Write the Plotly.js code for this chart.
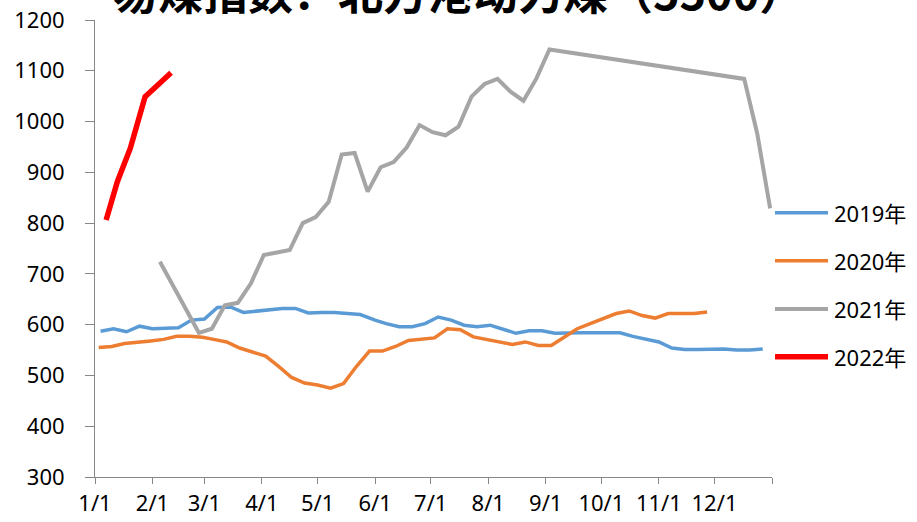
<!DOCTYPE html>
<html><head><meta charset="utf-8">
<script src="https://cdn.plot.ly/plotly-3.0.1.min.js"></script>
<style>html,body{margin:0;padding:0;background:#fff}#chart{width:917px;height:522px}</style>
</head><body><div id="chart"></div>
<script>
// ---- data (all series overlaid on one calendar year) ----
const baseYear = '2021';
const seriesNames = ['2019年', '2020年', '2021年', '2022年'];
const titleText = '易煤指数：北方港动力煤（5500）';

const dates2019 = ['01-04','01-11','01-18','01-25','02-01','02-08','02-15','02-22','03-01','03-08','03-15','03-22','03-29','04-05','04-12','04-19','04-26','05-03','05-10','05-17','05-24','06-01','06-07','06-14','06-21','06-28','07-05','07-12','07-19','07-26','08-02','08-09','08-16','08-23','08-30','09-06','09-13','09-20','09-27','10-11','10-18','10-25','11-01','11-08','11-15','11-22','11-29','12-06','12-13','12-20','12-27'];
const values2019 = [587,592,586,597,592,593,594,609,611,634,635,624,627,629,632,632,623,624,624,622,620,609,602,596,596,602,615,609,599,596,599,591,583,588,588,583,584,584,584,584,577,571,566,554,551,551,551,552,550,550,552];

const dates2020 = ['01-03','01-10','01-17','01-24','01-31','02-07','02-14','02-21','02-28','03-06','03-13','03-20','03-27','04-03','04-10','04-17','04-24','05-01','05-08','05-15','05-22','05-29','06-05','06-12','06-19','06-26','07-03','07-10','07-17','07-24','07-31','08-07','08-14','08-21','08-28','09-04','09-11','09-18','09-25','10-02','10-09','10-16','10-23','10-30','11-06','11-13','11-20','11-27'];
const values2020 = [555,557,563,565,568,571,577,577,575,571,566,554,546,538,518,496,485,481,475,484,518,548,548,557,569,571,574,592,590,576,571,566,561,566,559,559,576,592,602,612,622,627,618,613,622,622,622,625];

const dates2021 = ['02-05','02-26','03-05','03-12','03-19','03-26','04-02','04-09','04-16','04-23','04-30','05-07','05-14','05-21','05-28','06-04','06-11','06-18','06-25','07-02','07-09','07-16','07-23','07-30','08-06','08-13','08-20','08-27','09-03','12-17','12-24','12-31'];
const values2021 = [724,584,592,638,643,681,737,743,747,800,812,842,935,938,862,910,920,949,993,979,973,990,1049,1074,1084,1059,1041,1085,1142,1084,977,829];

const dates2022 = ['01-07','01-13','01-20','01-28','02-03','02-11'];
const values2022 = [806,881,947,1049,1069,1096];

const tickMonths = ['01','02','03','04','05','06','07','08','09','10','11','12'];
const tickLabels = ['1/1','2/1','3/1','4/1','5/1','6/1','7/1','8/1','9/1','10/1','11/1','12/1'];
const yTickStep = 100;
const yRange = [300, 1200];

// ---- styles ----
const colors = ['#5B9BD5', '#ED7D31', '#A5A5A5', '#FF0000'];
const widths = [3.5, 3.5, 4, 5.5];
const fontFamily = 'Noto Sans, Noto Sans CJK SC, sans-serif';
const axisColor = '#878787';

const W = 917, H = 522;
const M = {l: 95, r: 145, t: 20, b: 45};
const pw = W - M.l - M.r, ph = H - M.t - M.b;
const pX = px => (px - M.l) / pw;
const pY = py => (H - M.b - py) / ph;

const allDates = [dates2019, dates2020, dates2021, dates2022];
const allValues = [values2019, values2020, values2021, values2022];

const traces = allDates.map((d, i) => ({
  type: 'scatter', mode: 'lines',
  name: seriesNames[i],
  x: d.map(s => baseYear + '-' + s),
  y: allValues[i],
  line: {color: colors[i], width: widths[i], shape: 'linear'},
  hoverinfo: 'skip'
}));

const tickvals = tickMonths.map(m => baseYear + '-' + m + '-01').concat([(+baseYear + 1) + '-01-01']);
const ticktext = tickLabels.concat(['']);

const legendRows = [212.7, 260.7, 309, 356.7];
const shapes = legendRows.map((ry, i) => ({
  type: 'line', xref: 'paper', yref: 'paper',
  x0: pX(775), x1: pX(828), y0: pY(ry), y1: pY(ry),
  line: {color: colors[i], width: widths[i]}
}));
const annotations = legendRows.map((ry, i) => ({
  text: seriesNames[i], xref: 'paper', yref: 'paper',
  x: pX(832), y: pY(ry), xanchor: 'left', yanchor: 'middle',
  showarrow: false, font: {family: fontFamily, size: 22, color: '#000'}
}));
annotations.push({
  text: '<b>' + titleText + '</b>', xref: 'paper', yref: 'paper',
  x: pX(458), y: pY(-9.6), xanchor: 'center', yanchor: 'middle',
  showarrow: false, font: {family: 'Noto Sans CJK SC, sans-serif', size: 45, color: '#000'}
});

const layout = {
  width: W, height: H,
  margin: M,
  paper_bgcolor: '#fff', plot_bgcolor: '#fff',
  showlegend: false,
  xaxis: {
    type: 'date', range: [baseYear + '-01-01', (+baseYear + 1) + '-01-01'],
    tickmode: 'array', tickvals: tickvals, ticktext: ticktext,
    showline: true, linecolor: axisColor, linewidth: 1,
    ticks: 'outside', ticklen: 6, tickcolor: axisColor, tickwidth: 1,
    tickfont: {family: fontFamily, size: 22, color: '#000'},
    ticklabelstandoff: 1,
    showgrid: false, zeroline: false, fixedrange: true
  },
  yaxis: {
    range: yRange, tickmode: 'linear', tick0: 0, dtick: yTickStep,
    showline: true, linecolor: axisColor, linewidth: 1,
    ticks: 'outside', ticklen: 9, tickcolor: axisColor, tickwidth: 1,
    tickfont: {family: fontFamily, size: 22, color: '#000'},
    ticklabelstandoff: 16,
    showgrid: false, zeroline: false, fixedrange: true
  },
  shapes: shapes,
  annotations: annotations
};

Plotly.newPlot('chart', traces, layout, {staticPlot: true, displayModeBar: false});
</script>
</body></html>
